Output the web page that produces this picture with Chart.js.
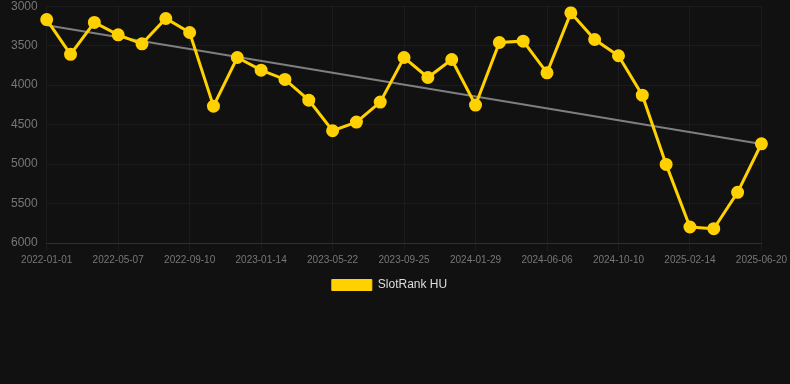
<!DOCTYPE html>
<html>
<head>
<meta charset="utf-8">
<script src="https://cdn.jsdelivr.net/npm/chart.js@4/dist/chart.umd.min.js"></script>
<style>
  html, body { margin: 0; padding: 0; background: #111111; overflow: hidden; }
  #outer { width: 790px; height: 384px; overflow: hidden; position: relative; }
  #wrap { position: absolute; left: -11px; top: -10px; width: 801px; height: 394px; }
</style>
</head>
<body>
<div id="outer"><div id="wrap"><canvas id="chart"></canvas></div></div>
<script>
// date labels (every ~6 weeks)
const dates = [
    '2022-01-01', '2022-02-12', '2022-03-26', '2022-05-07', '2022-06-18', '2022-07-30',
    '2022-09-10', '2022-10-22', '2022-12-03', '2023-01-14', '2023-02-26', '2023-04-09',
    '2023-05-22', '2023-07-03', '2023-08-14', '2023-09-25', '2023-11-06', '2023-12-18',
    '2024-01-29', '2024-03-12', '2024-04-24', '2024-06-06', '2024-07-18', '2024-08-29',
    '2024-10-10', '2024-11-21', '2025-01-03', '2025-02-14', '2025-03-28', '2025-05-09',
    '2025-06-20'
];

// rank values (lower is better, axis reversed)
const ranks = [
    3170, 3610, 3205, 3363, 3477, 3156, 3333, 4266, 3650, 3810, 3928, 4190,
    4578, 4468, 4215, 3650, 3903, 3675, 4253, 3460, 3443, 3844, 3084, 3422,
    3628, 4127, 5004, 5797, 5819, 5358, 4743
];

// trend line end points
const trendStart = 3240;
const trendEnd = 4745;

const yTicks = [3000, 3500, 4000, 4500, 5000, 5500, 6000];

const trend = dates.map((d, i) => i === 0 ? trendStart : (i === dates.length - 1 ? trendEnd : null));

const gridColor = 'rgba(255,255,255,0.045)';
const fontFamily = 'Arial, "Liberation Sans", sans-serif';

const ctx = document.getElementById('chart').getContext('2d');
new Chart(ctx, {
    type: 'line',
    data: {
        labels: dates,
        datasets: [{
            label: 'SlotRank HU',
            data: ranks,
            borderColor: '#FFD100',
            backgroundColor: '#FFD100',
            borderWidth: 3,
            pointRadius: 5,
            pointHoverRadius: 6,
            tension: 0
        }, {
            label: 'trend',
            data: trend,
            spanGaps: true,
            borderColor: 'rgba(140,140,140,0.9)',
            borderWidth: 2,
            pointRadius: 0,
            tension: 0
        }]
    },
    options: {
        responsive: true,
        maintainAspectRatio: false,
        animation: false,
        layout: {
            padding: { left: 0, right: 0, top: 0, bottom: 83 }
        },
        scales: {
            x: {
                grid: {
                    color: c => (c.index % 3 === 0 ? gridColor : 'transparent'),
                    drawTicks: true,
                    tickLength: 8
                },
                border: { color: 'rgba(255,255,255,0.09)' },
                afterFit: scale => { scale.height += 6; },
                ticks: {
                    autoSkip: false,
                    maxRotation: 0,
                    padding: 3,
                    color: '#777',
                    font: { family: fontFamily, size: 10 },
                    callback: function(value, index) {
                        return index % 3 === 0 ? this.getLabelForValue(value) : '';
                    }
                }
            },
            y: {
                reverse: true,
                min: yTicks[0],
                max: yTicks[yTicks.length - 1],
                afterBuildTicks: axis => { axis.ticks = yTicks.map(v => ({ value: v })); },
                afterFit: scale => { scale.width += 13; },
                grid: { color: gridColor, drawTicks: false },
                border: { display: false },
                ticks: {
                    padding: 9,
                    color: '#777',
                    font: { family: fontFamily, size: 12 },
                    callback: v => String(v)
                }
            }
        },
        plugins: {
            legend: {
                position: 'bottom',
                labels: {
                    boxWidth: 40,
                    boxHeight: 11,
                    padding: 4,
                    color: '#ddd',
                    font: { family: fontFamily, size: 12 },
                    generateLabels: chart => Chart.defaults.plugins.legend.labels.generateLabels(chart)
                        .filter(item => item.text !== 'trend')
                        .map(item => Object.assign(item, { lineWidth: 1 }))
                }
            },
            tooltip: { enabled: false }
        }
    }
});
</script>
</body>
</html>
